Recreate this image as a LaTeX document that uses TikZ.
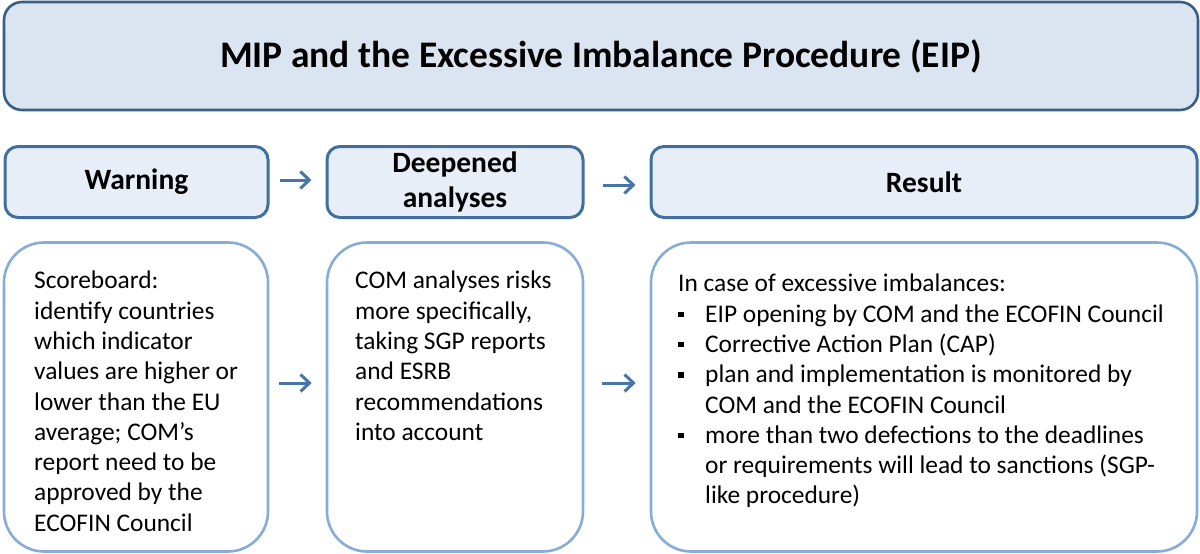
\documentclass[tikz,border=0pt]{standalone}
\usepackage{fontspec}
\setmainfont{Carlito}
\usetikzlibrary{arrows.meta}
\definecolor{titlefill}{HTML}{DBE5F1}
\definecolor{titleline}{HTML}{3A5D86}
\definecolor{headfill}{HTML}{E8EEF7}
\definecolor{headline}{HTML}{41709F}
\definecolor{bodyline}{HTML}{86ACD8}
\definecolor{arrowcol}{HTML}{4775A8}
\newcommand{\sqbullet}{\makebox[27pt][l]{\raisebox{0.2em}{\rule{5.5pt}{5.5pt}}}}
\newcommand{\hang}{\hspace*{27pt}}
\tikzset{
  titlebox/.style={draw=titleline, fill=titlefill, line width=2.6pt, rounded corners=18pt, inner sep=0pt},
  headbox/.style={draw=headline, fill=headfill, line width=3pt, rounded corners=13pt, inner sep=0pt, align=center,
    font=\fontsize{29.5}{35}\selectfont\bfseries},
  bodybox/.style={draw=bodyline, fill=white, line width=2.6pt, rounded corners=40pt, inner sep=0pt},
  bodytext/.style={inner sep=0pt, align=left, anchor=north west, font=\fontsize{25.4}{30.3}\selectfont},
  flow/.style={draw=arrowcol, line width=3pt, -{Straight Barb[length=9pt,width=17pt]}}
}
\begin{document}
\begin{tikzpicture}[x=1pt,y=1pt]
\useasboundingbox (0,0) rectangle (1200,-554);
% title banner
\node[titlebox, minimum width=1194pt, minimum height=108pt,
  font=\fontsize{37.5}{44}\selectfont\bfseries] (title) at (601,-56)
  {MIP and the Excessive Imbalance Procedure (EIP)};
% stage headers
\node[headbox, minimum width=263pt, minimum height=71pt] (warnH) at (136.5,-182) {Warning};
\node[headbox, minimum width=256pt, minimum height=71pt] (deepH) at (455,-182) {Deepened\\analyses};
\node[headbox, minimum width=546pt, minimum height=71pt] (resH) at (924,-182) {Result};
% stage contents
\node[bodybox, minimum width=264pt, minimum height=309pt] (warnB) at (136,-397) {};
\node[bodybox, minimum width=256pt, minimum height=309pt] (deepB) at (455,-397) {};
\node[bodybox, minimum width=546pt, minimum height=309pt] (resB) at (924,-397) {};
\node[bodytext] (warnT) at (34,-271) {Scoreboard:\\identify countries\\which indicator\\values are higher or\\lower than the EU\\average; COM’s\\report need to be\\approved by the\\ECOFIN Council};
\node[bodytext] (deepT) at (355,-271) {COM analyses risks\\more specifically,\\taking SGP reports\\and ESRB\\recommendations\\into account};
\node[bodytext] (resT) at (678,-274) {In case of excessive imbalances:\\
\sqbullet EIP opening by COM and the ECOFIN Council\\
\sqbullet Corrective Action Plan (CAP)\\
\sqbullet plan and implementation is monitored by\\
\hang COM and the ECOFIN Council\\
\sqbullet more than two defections to the deadlines\\
\hang or requirements will lead to sanctions (SGP-\\
\hang like procedure)};
% progression arrows
\draw[flow, shorten <=10pt, shorten >=14pt] ([yshift=2pt]warnH.east) -- ([yshift=2pt]warnH.east -| deepH.west);
\draw[flow, shorten <=18pt, shorten >=14pt] ([yshift=-3pt]deepH.east) -- ([yshift=-3pt]deepH.east -| resH.west);
\draw[flow, shorten <=10pt, shorten >=14pt] ([yshift=14pt]warnB.east) -- ([yshift=14pt]warnB.east -| deepB.west);
\draw[flow, shorten <=18pt, shorten >=14pt] ([yshift=14pt]deepB.east) -- ([yshift=14pt]deepB.east -| resB.west);
\end{tikzpicture}
\end{document}
